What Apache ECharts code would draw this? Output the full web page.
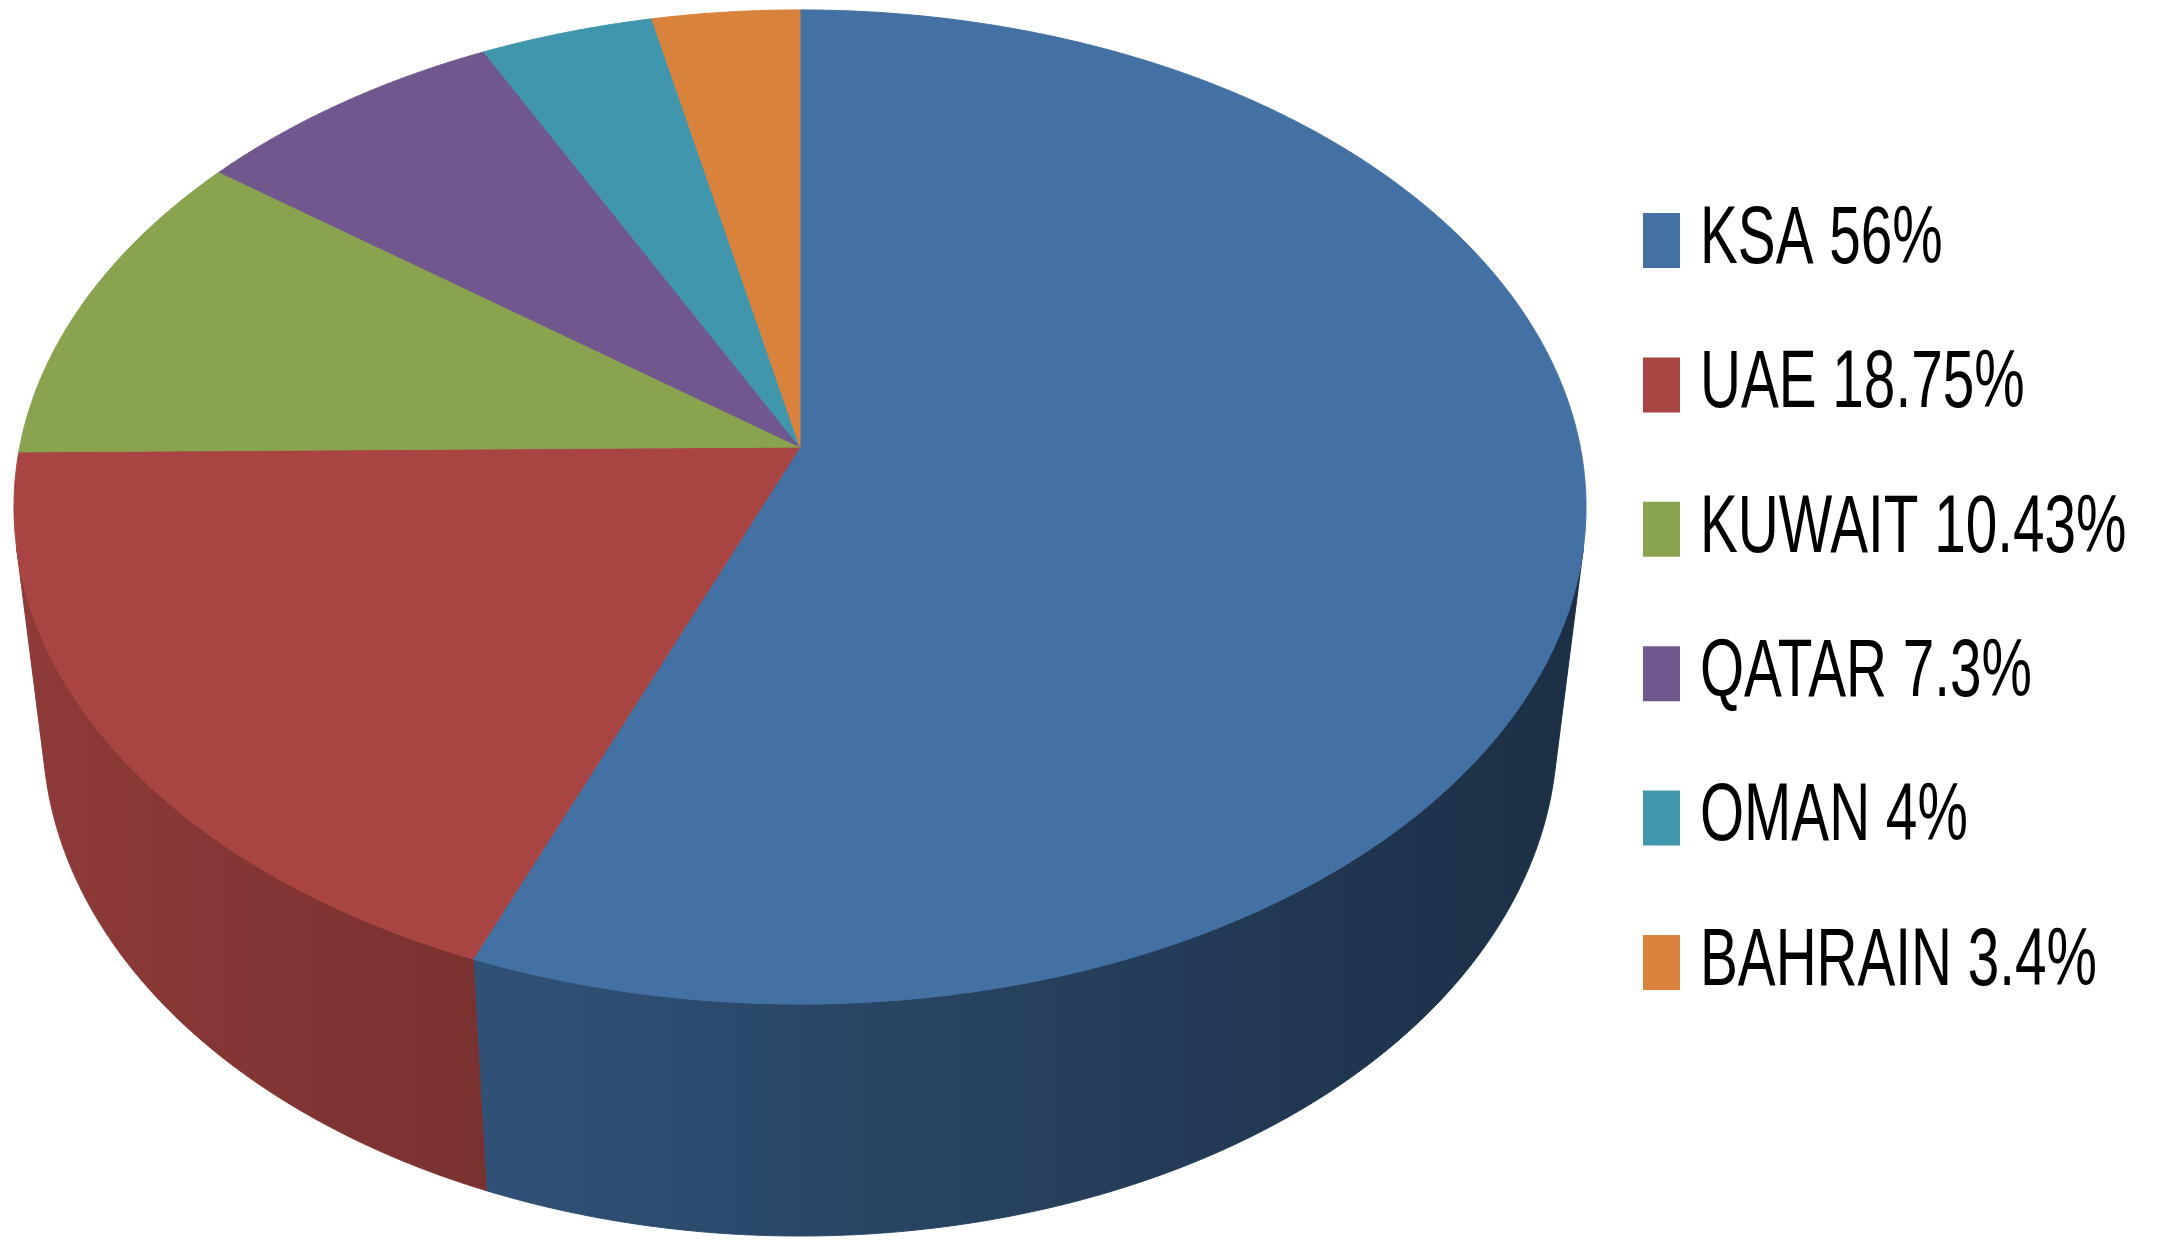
<!DOCTYPE html>
<html><head><meta charset="utf-8">
<script src="https://cdn.jsdelivr.net/npm/echarts@6/dist/echarts.min.js"></script>
<style>html,body{margin:0;padding:0;background:#fff}#c{width:2169px;height:1247px}</style>
</head><body><div id="c"></div>
<script>
const categories = ['KSA', 'UAE', 'KUWAIT', 'QATAR', 'OMAN', 'BAHRAIN'];
const shares = [56, 18.75, 10.43, 7.3, 4, 3.4];
const legendLabels = ['KSA 56%', 'UAE 18.75%', 'KUWAIT 10.43%', 'QATAR 7.3%', 'OMAN 4%', 'BAHRAIN 3.4%'];
const colors = ['#4371A4', '#A84442', '#89A34F', '#70588E', '#4096AD', '#D8823C'];

const total = shares.reduce((a, b) => a + b, 0);
// perspective view of a unit disc
const CX = 800, CY = 447, F = 5032, D = 6.449, COSA = 0.7784, SINA = Math.sqrt(1 - COSA * COSA), T = 0.3844;
function proj(x, y, h) {
  const d = D + y * COSA - h * SINA;
  return [CX + F * x / d, CY - F * (y * SINA + h * COSA) / d];
}
function shade(hex, f) {
  const n = parseInt(hex.slice(1), 16);
  const r = Math.round(((n >> 16) & 255) * f), g = Math.round(((n >> 8) & 255) * f), b = Math.round((n & 255) * f);
  return 'rgb(' + r + ',' + g + ',' + b + ')';
}
function makeRender(i) {
  return function (params, api) {
    let cum = 0;
    for (let k = 0; k < i; k++) cum += shares[k];
    const v = api.value(0);
    const a0 = Math.PI / 2 - cum / total * 2 * Math.PI;
    const a1 = Math.PI / 2 - (cum + v) / total * 2 * Math.PI;
    const step = Math.PI / 720;
    const N = Math.max(8, Math.ceil((a0 - a1) / step));
    const top = [proj(0, 0, 0)];
    for (let k = 0; k <= N; k++) {
      const th = a0 + (a1 - a0) * k / N;
      top.push(proj(Math.cos(th), Math.sin(th), 0));
    }
    const children = [{
      type: 'polygon', shape: { points: top },
      style: { fill: colors[i], stroke: colors[i], lineWidth: 1 }, z2: 10
    }];
    const lim = Math.asin(1 / (D * COSA));
    const hi = Math.min(a0, -lim), lo = Math.max(a1, -Math.PI + lim);
    if (hi > lo) {
      const M = Math.max(4, Math.ceil((hi - lo) / step));
      const up = [], dn = [];
      for (let k = 0; k <= M; k++) {
        const th = hi + (lo - hi) * k / M;
        up.push(proj(Math.cos(th), Math.sin(th), 0));
        dn.push(proj(Math.cos(th), Math.sin(th), -T));
      }
      const grad = {
        type: 'linear', x: 14, y: 0, x2: 1585, y2: 0, global: true,
        colorStops: [{ offset: 0, color: shade(colors[i], 0.85) }, { offset: 1, color: shade(colors[i], 0.42) }]
      };
      children.push({
        type: 'polygon', shape: { points: up.concat(dn.reverse()) },
        style: { fill: grad, stroke: grad, lineWidth: 1 }, z2: 0
      });
    }
    return { type: 'group', children: children };
  };
}
// legend (icons + condensed text), built from the label and colour lists
const LEG_X = 1643, LEG_Y = 213, LEG_STEP = 144.4;
const legendGraphics = [];
legendLabels.forEach((lab, i) => {
  legendGraphics.push({
    type: 'rect', shape: { x: LEG_X, y: LEG_Y + i * LEG_STEP, width: 37, height: 55 },
    style: { fill: colors[i] }, silent: true
  });
  legendGraphics.push({
    type: 'text', x: 1700, y: LEG_Y + 27.5 + i * LEG_STEP, scaleX: 0.70, silent: true,
    style: { text: lab, font: "81px 'Liberation Sans', Arial, sans-serif", fill: '#000', verticalAlign: 'middle', align: 'left' }
  });
});
const chart = echarts.init(document.getElementById('c'), null, { renderer: 'canvas' });
chart.setOption({
  animation: false,
  backgroundColor: '#ffffff',
  graphic: { elements: legendGraphics },
  series: categories.map((c, i) => ({
    type: 'custom', name: legendLabels[i], coordinateSystem: 'none', silent: true,
    itemStyle: { color: colors[i] },
    renderItem: makeRender(i),
    data: [shares[i]]
  }))
});
</script></body></html>
